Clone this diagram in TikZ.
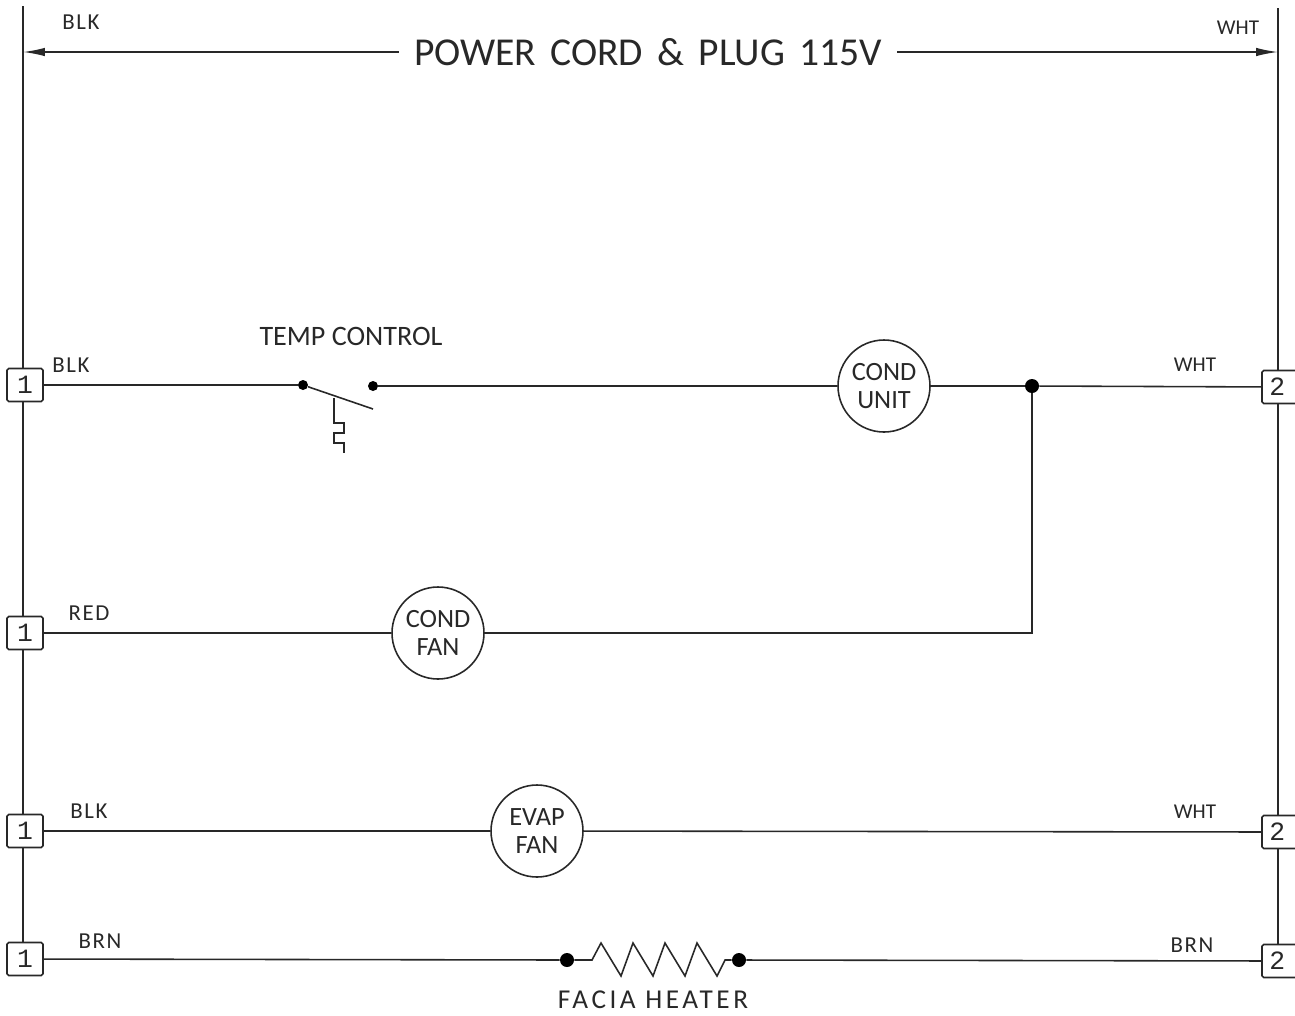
\documentclass[tikz,border=0pt]{standalone}
\usepackage{fontspec}
\setmainfont{Carlito}
\newfontfamily\labelfont[LetterSpace=7]{Carlito}
\newfontfamily\widefont[LetterSpace=13]{Carlito}
\newfontfamily\titlefont[WordSpace=1.6]{Carlito}
\newfontfamily\digitfont{Liberation Mono}
\usetikzlibrary{
  arrows.meta
}
\definecolor{inkish}{RGB}{40,40,40}

\begin{document}
\begin{tikzpicture}[
  x=0.02cm,
  y=-0.02cm,
  wire/.style={
    draw=inkish,
    line width=0.9pt,
  },
  terminal/.style={
    draw=inkish,
    fill=white,
    rectangle,
    rounded corners=1pt,
    line width=0.9pt,
    minimum width=36*0.02cm,
    minimum height=33*0.02cm,
    inner sep=0pt,
    text=inkish,
    font=\fontsize{15}{15}\digitfont,
  },
  motor/.style={
    draw=inkish,
    fill=white,
    circle,
    line width=0.9pt,
    minimum size=92*0.02cm,
    inner sep=0pt,
    align=center,
    text=inkish,
    font=\fontsize{15}{15.5}\selectfont,
  },
  junction/.style={
    draw=none,
    fill=black,
    circle,
    minimum size=14*0.02cm,
    inner sep=0pt,
  },
  contact/.style={
    draw=none,
    fill=black,
    circle,
    minimum size=10*0.02cm,
    inner sep=0pt,
  },
  wirelabel/.style={
    text=inkish,
    inner sep=0pt,
    font=\fontsize{13}{13}\labelfont,
  },
  whtlabel/.style={
    wirelabel,
    font=\fontsize{12}{12}\selectfont,
  },
  partlabel/.style={
    text=inkish,
    inner sep=0pt,
    font=\fontsize{15.5}{15.5}\widefont,
  },
  >={Latex[length=0.44cm,width=0.17cm]}
]
\useasboundingbox (0,0) rectangle (1295,1015);

% Rails
\coordinate (railLtop) at (23,6);
\coordinate (railRtop) at (1278,8);
\coordinate (railLend) at (23,950);
\coordinate (railRend) at (1278,950);
\coordinate (plugL) at (23,52);
\coordinate (plugR) at (1278,52);
\draw[wire] (railLtop) -- (railLend);
\draw[wire] (railRtop) -- (railRend);

% Terminals
\node[terminal] (termL1) at (25,385) {1};
\node[terminal] (termL2) at (25,633) {1};
\node[terminal] (termL3) at (25,831) {1};
\node[terminal] (termL4) at (25,959) {1};
\node[terminal] (termR1) at (1280,387) {2\kern3pt};
\node[terminal] (termR3) at (1280,832) {2\kern3pt};
\node[terminal] (termR4) at (1280,961) {2\kern3pt};

% Power cord
\node[text=inkish,inner ysep=0pt,inner xsep=8.5pt,font=\fontsize{22.5}{23}\titlefont] (cord) at (648,52) {POWER CORD \& PLUG 115V};
\draw[wire,->] (cord.west) -- (plugL);
\draw[wire,->] (cord.east) -- (plugR);
\node[wirelabel] (blkTop) at (81,22) {BLK};
\node[whtlabel] (whtTop) at (1238,28) {WHT};

% Top rung
\node[contact] (contactA) at (303,385) {};
\node[contact] (contactB) at (373,386) {};
\node[motor] (condunit) at (884,386) {COND\\UNIT};
\node[junction] (tee) at (1032,386) {};
\draw[wire] (termL1) -- (contactA);
\draw[wire] (contactB) -- (condunit);
\draw[wire] (condunit) -- (tee);
\draw[wire] (tee) -- (termR1);
\coordinate (bladeEnd) at (373,409);
\draw[wire] (contactA) -- (bladeEnd);
\draw[wire] (334,398) -- (334,423) -- (344,423) -- (344,433) -- (334,433) -- (334,443) -- (344,443) -- (344,453);
\node[partlabel,font=\fontsize{16}{16}\selectfont] (tempLabel) at (351,336) {TEMP CONTROL};
\node[wirelabel] (blkA) at (71,365) {BLK};
\node[whtlabel] (whtA) at (1195,365) {WHT};

% Second rung
\node[motor] (condfan) at (438,633) {COND\\FAN};
\coordinate (bend) at (1032,633);
\draw[wire] (termL2) -- (condfan);
\draw[wire] (condfan) -- (bend) -- (tee);
\node[wirelabel] (redA) at (89,613) {RED};

% Third rung
\node[motor] (evapfan) at (537,831) {EVAP\\FAN};
\draw[wire] (termL3) -- (evapfan);
\draw[wire] (evapfan) -- (termR3);
\node[wirelabel] (blkB) at (89,811) {BLK};
\node[whtlabel] (whtB) at (1195,812) {WHT};

% Heater
\node[junction] (heatL) at (567,960) {};
\node[junction] (heatR) at (739,960) {};
\draw[wire] (termL4) -- (heatL);
\draw[wire] (heatL) -- (592,960) -- (601,943) -- (621,976) -- (633,943) -- (653,976) -- (665,943) -- (685,976) -- (697,943) -- (717,976) -- (725,960) -- (heatR);
\draw[wire] (heatR) -- (termR4);
\node[partlabel] (heatLabel) at (653,1000) {FACIA HEATER};
\node[wirelabel] (brnA) at (100,941) {BRN};
\node[wirelabel] (brnB) at (1192,945) {BRN};

\end{tikzpicture}
\end{document}
